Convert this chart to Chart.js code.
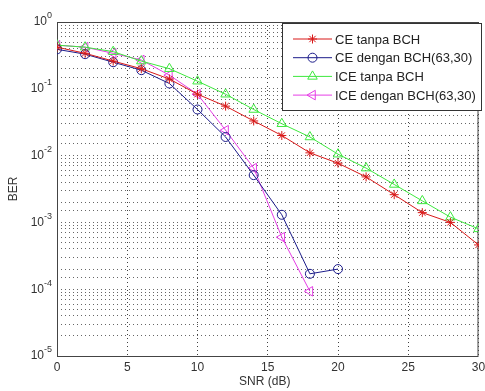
<!DOCTYPE html>
<html>
<head>
<meta charset="utf-8">
<script src="https://cdn.jsdelivr.net/npm/chart.js@4"></script>
<style>
  html, body { margin: 0; padding: 0; background: #fff; }
  #wrap { width: 485px; height: 391px; }
</style>
</head>
<body>
<div id="wrap"><canvas id="berChart" width="485" height="391"></canvas></div>
<script>
// SNR (dB) values
const snr = [0, 2, 4, 6, 8, 10, 12, 14, 16, 18, 20, 22, 24, 26, 28, 30];
// BER per series
const ceTanpa = [0.42, 0.34, 0.26, 0.20, 0.14, 0.083, 0.055, 0.033, 0.020, 0.011, 0.0077, 0.0048, 0.0026, 0.0014, 0.001, 0.00046];
const ceDengan = [0.39, 0.33, 0.25, 0.19, 0.12, 0.049, 0.019, 0.0051, 0.0013, 0.00017, 0.0002];
const iceTanpa = [0.45, 0.42, 0.36, 0.26, 0.20, 0.13, 0.083, 0.049, 0.030, 0.019, 0.0105, 0.0065, 0.0037, 0.0021, 0.0012, 0.0008];
const iceDengan = [0.45, 0.42, 0.34, 0.27, 0.16, 0.083, 0.024, 0.0065, 0.0006, 0.000093];
const seriesNames = ['CE tanpa BCH', 'CE dengan BCH(63,30)', 'ICE tanpa BCH', 'ICE dengan BCH(63,30)'];
const xTicks = [0, 5, 10, 15, 20, 25, 30];

const toPoints = vals => vals.map((v, i) => ({ x: snr[i], y: v }));
const FONT = '"Liberation Sans", Arial, sans-serif';

function makeSet(label, vals, color, style, rot, radius) {
    return {
        label: label,
        data: toPoints(vals),
        borderColor: color,
        backgroundColor: 'rgba(0,0,0,0)',
        borderWidth: 1,
        pointStyle: style,
        pointRotation: rot,
        pointRadius: radius,
        pointBorderColor: color,
        pointBorderWidth: 1,
        pointBackgroundColor: 'rgba(0,0,0,0)',
        tension: 0
    };
}

const datasets = [
    makeSet(seriesNames[0], ceTanpa, '#d81818', 'star', 0, 4.5),
    makeSet(seriesNames[1], ceDengan, '#1c1c8a', 'circle', 0, 4.5),
    makeSet(seriesNames[2], iceTanpa, '#3ee83e', 'triangle', 0, 5.5),
    makeSet(seriesNames[3], iceDengan, '#e63ee6', 'triangle', -90, 5.5)
];

// frame, tick labels, titles and legend
const decor = {
    id: 'decor',
    beforeDatasetsDraw(chart) {
        const { ctx, chartArea: a } = chart;
        ctx.save();
        ctx.strokeStyle = '#444';
        ctx.lineWidth = 1;
        ctx.strokeRect(a.left + 0.5, a.top + 0.5, a.right - a.left - 1, a.bottom - a.top);
        ctx.restore();
    },
    afterDraw(chart) {
        const { ctx, chartArea: a } = chart;
        const xs = chart.scales.x, ys = chart.scales.y;
        ctx.save();
        ctx.fillStyle = '#333';
        ctx.textBaseline = 'middle';
        // x tick labels
        ctx.font = '12px ' + FONT;
        ctx.textAlign = 'center';
        xTicks.forEach(t => ctx.fillText(String(t), xs.getPixelForValue(t), a.bottom + 12));
        // y tick labels with superscripts
        for (let e = 0; e >= -5; e--) {
            const py = ys.getPixelForValue(Math.pow(10, e));
            const exp = String(e);
            ctx.font = '9px ' + FONT;
            const ew = ctx.measureText(exp).width;
            ctx.textAlign = 'left';
            ctx.fillText(exp, a.left - 5 - ew, py - 6);
            ctx.font = '12px ' + FONT;
            ctx.textAlign = 'right';
            ctx.fillText('10', a.left - 5 - ew, py);
        }
        // axis titles
        ctx.font = '12px ' + FONT;
        ctx.textAlign = 'center';
        ctx.fillText('SNR (dB)', (a.left + a.right) / 2 - 3, a.bottom + 26);
        ctx.translate(14, (a.top + a.bottom) / 2);
        ctx.rotate(-Math.PI / 2);
        ctx.fillText('BER', 0, 0);
        ctx.restore();

        // legend box
        ctx.save();
        const bx = 282, by = 23, bw = 199, bh = 87;
        ctx.fillStyle = '#fff';
        ctx.fillRect(bx, by, bw, bh);
        ctx.strokeStyle = '#333';
        ctx.lineWidth = 1;
        ctx.strokeRect(bx + 0.5, by + 0.5, bw, bh);
        ctx.font = '13px ' + FONT;
        ctx.textAlign = 'left';
        ctx.textBaseline = 'middle';
        chart.data.datasets.forEach((ds, i) => {
            const ly = 39 + i * 18.7;
            ctx.strokeStyle = ds.borderColor;
            ctx.lineWidth = 1;
            ctx.beginPath();
            ctx.moveTo(293, ly);
            ctx.lineTo(332, ly);
            ctx.stroke();
            ctx.fillStyle = 'rgba(0,0,0,0)';
            Chart.helpers.drawPoint(ctx, {
                pointStyle: ds.pointStyle,
                rotation: ds.pointRotation,
                radius: ds.pointRadius,
                borderWidth: 1
            }, 312.5, ly);
            ctx.fillStyle = '#222';
            ctx.fillText(ds.label, 335, ly + 1);
        });
        ctx.restore();
    }
};

const ctx = document.getElementById('berChart').getContext('2d');
const berChart = new Chart(ctx, {
    type: 'line',
    data: { datasets: datasets },
    plugins: [decor],
    options: {
        responsive: false,
        animation: false,
        layout: { padding: { top: 22, right: 2, left: 0, bottom: 0 } },
        plugins: { legend: { display: false }, tooltip: { enabled: false } },
        scales: {
            x: {
                type: 'linear',
                min: 0,
                max: 30,
                ticks: { display: false, stepSize: 5 },
                grid: { color: 'rgba(0,0,0,0.75)', lineWidth: 1, drawTicks: false },
                border: { display: false, dash: [1, 3] },
                afterFit: s => { s.height = 35; }
            },
            y: {
                type: 'logarithmic',
                min: 1e-5,
                max: 1,
                ticks: { display: false },
                grid: { color: 'rgba(0,0,0,0.6)', lineWidth: 1, drawTicks: false },
                border: { display: false, dash: [1, 3] },
                afterFit: s => { s.width = 57; }
            }
        }
    }
});
</script>
</body>
</html>
